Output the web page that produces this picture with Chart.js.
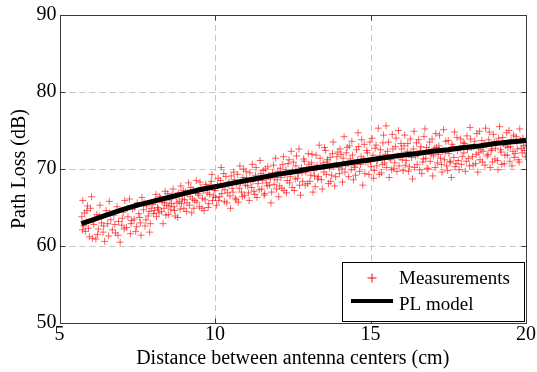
<!DOCTYPE html>
<html>
<head>
<meta charset="utf-8">
<script src="https://cdn.jsdelivr.net/npm/chart.js@4"></script>
<style>
html,body{margin:0;padding:0;background:#fff;}
#wrap{width:537px;height:372px;position:relative;}
</style>
</head>
<body>
<div id="wrap"><canvas id="c" width="537" height="372"></canvas></div>
<script>
// ---- data ----
const xTicks = [5, 10, 15, 20];
const yTicks = [50, 60, 70, 80, 90];
const xTitle = 'Distance between antenna centers (cm)';
const yTitle = 'Path Loss (dB)';
const seriesNames = ['Measurements', 'PL model'];

// PL model curve
const modelX = [5.7, 6, 6.5, 7, 7.5, 8, 8.5, 9, 9.5, 10, 10.5, 11, 11.5, 12, 12.5, 13, 13.5, 14, 14.5, 15, 15.5, 16, 16.5, 17, 17.5, 18, 18.5, 19, 19.5, 20];
const modelY = [62.9, 63.3, 64.0, 64.7, 65.3, 65.8, 66.3, 66.8, 67.3, 67.7, 68.1, 68.5, 68.9, 69.3, 69.6, 70.0, 70.3, 70.6, 70.9, 71.2, 71.5, 71.8, 72.0, 72.3, 72.5, 72.8, 73.0, 73.3, 73.5, 73.7];

// Measurements (estimated from the scatter cloud)
const measX = [
5.72,5.75,5.78,5.8,5.83,5.86,5.9,5.93,5.96,6.0,6.03,6.06,6.1,6.13,6.17,6.2,6.25,6.3,6.35,6.4,6.45,6.5,6.55,6.6,6.65,6.7,6.75,6.8,6.85,6.9,6.95,7.0,7.05,7.1,7.15,7.2,7.25,7.3,7.35,7.4,7.45,7.5,7.55,7.6,7.65,7.7,7.75,7.8,7.85,7.9,7.95,
8.0,8.05,8.1,8.12,8.15,8.2,8.25,8.3,8.33,8.36,8.4,8.45,8.5,8.55,8.6,8.65,8.7,8.75,8.8,8.85,8.9,8.95,9.0,9.05,9.1,9.15,9.2,9.25,9.3,9.35,9.4,9.45,9.5,9.55,9.6,9.65,9.7,9.75,9.8,9.85,9.9,9.95,
10.0,10.05,10.1,10.15,10.2,10.25,10.3,10.35,10.4,10.45,10.5,10.55,10.6,10.65,10.7,10.75,10.8,10.85,10.9,10.95,11.0,11.05,11.1,11.15,11.2,11.25,11.3,11.35,11.4,11.45,11.5,11.55,11.6,11.65,11.7,11.75,11.8,11.85,11.9,11.95,
12.0,12.05,12.1,12.15,12.2,12.25,12.3,12.35,12.4,12.45,12.5,12.55,12.6,12.65,12.7,12.75,12.8,12.85,12.9,12.95,13.0,13.05,13.1,13.15,13.2,13.25,13.3,13.35,13.4,13.45,13.5,13.55,13.6,13.65,13.7,13.75,13.8,13.85,13.9,13.95,
14.0,14.05,14.1,14.15,14.2,14.25,14.3,14.35,14.4,14.45,14.5,14.55,14.6,14.65,14.7,14.75,14.8,14.85,14.9,14.95,15.0,15.05,15.1,15.15,15.2,15.25,15.3,15.35,15.4,15.45,15.5,15.55,15.6,15.65,15.7,15.75,15.8,15.85,15.9,15.95,
16.0,16.05,16.1,16.15,16.2,16.25,16.3,16.35,16.4,16.45,16.5,16.55,16.6,16.65,16.7,16.75,16.8,16.85,16.9,16.95,17.0,17.05,17.1,17.15,17.2,17.25,17.3,17.35,17.4,17.45,17.5,17.55,17.6,17.65,17.7,17.75,17.8,17.85,17.9,17.95,
18.0,18.05,18.1,18.15,18.2,18.25,18.3,18.35,18.4,18.45,18.5,18.55,18.6,18.65,18.7,18.75,18.8,18.85,18.9,18.95,19.0,19.05,19.1,19.15,19.2,19.25,19.3,19.35,19.4,19.45,19.5,19.55,19.6,19.65,19.7,19.75,19.8,19.85,19.9,19.95,20.0,
5.74,5.88,6.08,6.22,6.28,6.42,6.58,6.62,6.78,6.88,7.02,7.08,7.18,7.28,7.32,7.42,7.48,7.58,7.62,7.72,7.78,7.88,7.92,
8.02,8.08,8.18,8.22,8.28,8.38,8.42,8.48,8.52,8.58,8.62,8.68,8.72,8.78,8.82,8.88,8.92,8.98,9.02,9.08,9.12,9.18,9.22,9.28,9.32,9.38,9.42,9.48,9.52,9.58,9.62,9.68,9.72,9.78,9.82,9.88,9.92,9.98,
10.02,10.08,10.12,10.18,10.22,10.28,10.32,10.38,10.42,10.48,10.52,10.58,10.62,10.68,10.72,10.78,10.82,10.88,10.92,10.98,11.02,11.08,11.12,11.18,11.22,11.28,11.32,11.38,11.42,11.48,11.52,11.58,11.62,11.68,11.72,11.78,11.82,11.88,11.92,11.98,
12.02,12.08,12.12,12.18,12.22,12.28,12.32,12.38,12.42,12.48,12.52,12.58,12.62,12.68,12.72,12.78,12.82,12.88,12.92,12.98,13.02,13.08,13.12,13.18,13.22,13.28,13.32,13.38,13.42,13.48,13.52,13.58,13.62,13.68,13.72,13.78,13.82,13.88,13.92,13.98,
14.02,14.08,14.12,14.18,14.22,14.28,14.32,14.38,14.42,14.48,14.52,14.58,14.62,14.68,14.72,14.78,14.82,14.88,14.92,14.98,15.02,15.08,15.12,15.18,15.22,15.28,15.32,15.38,15.42,15.48,15.52,15.58,15.62,15.68,15.72,15.78,15.82,15.88,15.92,15.98,
16.02,16.08,16.12,16.18,16.22,16.28,16.32,16.38,16.42,16.48,16.52,16.58,16.62,16.68,16.72,16.78,16.82,16.88,16.92,16.98,17.02,17.08,17.12,17.18,17.22,17.28,17.32,17.38,17.42,17.48,17.52,17.58,17.62,17.68,17.72,17.78,17.82,17.88,17.92,17.98,
18.02,18.08,18.12,18.18,18.22,18.28,18.32,18.38,18.42,18.48,18.52,18.58,18.62,18.68,18.72,18.78,18.82,18.88,18.92,18.98,19.02,19.08,19.12,19.18,19.22,19.28,19.32,19.38,19.42,19.48,19.52,19.58,19.62,19.68,19.72,19.78,19.82,19.88,19.92,19.98
];
const measY = [
63.8,65.9,62.6,64.3,61.9,63.1,65.2,62.3,61.2,64.9,66.4,61.0,62.8,63.6,60.9,64.1,62.2,65.3,63.0,61.8,60.6,64.6,62.9,65.8,63.4,62.1,64.0,61.7,65.1,63.2,60.5,62.7,64.4,65.9,62.4,63.8,66.1,62.9,64.8,63.5,61.9,65.6,64.2,63.0,66.3,64.7,62.6,65.2,63.9,61.8,64.9,
65.4,64.6,66.7,63.8,65.0,64.3,66.2,65.7,62.9,64.9,67.1,65.3,64.1,66.0,65.5,67.4,64.6,66.4,63.7,65.8,67.8,66.1,64.9,67.0,65.6,68.2,66.4,64.3,67.3,65.9,68.5,66.8,65.1,67.6,66.2,64.6,68.0,66.9,65.5,67.9,69.3,66.5,
67.2,65.3,68.8,66.4,70.2,67.7,65.8,69.0,66.9,68.3,64.9,67.5,69.6,66.2,68.1,65.7,70.4,67.0,68.9,66.6,69.7,67.8,65.9,68.4,70.6,67.1,69.2,66.3,68.7,71.1,67.4,69.8,66.8,68.2,70.3,67.9,65.6,69.5,68.0,71.4,
68.6,66.4,70.1,67.5,71.6,69.3,66.9,70.7,68.2,72.3,69.8,67.2,70.4,68.8,72.6,66.6,69.5,71.3,67.9,70.0,72.0,68.4,70.8,67.0,69.1,71.8,68.7,73.1,70.3,67.4,69.6,72.4,70.9,68.1,71.5,69.2,73.5,67.8,70.6,72.2,
69.4,71.9,68.3,74.2,70.5,72.8,69.0,71.3,73.6,68.6,70.2,72.5,74.7,69.7,71.6,67.9,73.2,70.9,72.1,69.3,71.0,74.0,68.8,72.7,70.4,75.3,71.7,69.5,73.4,70.8,75.6,72.3,68.9,71.2,74.5,70.1,72.9,69.7,75.0,71.5,
72.6,69.8,74.4,71.1,73.3,70.3,72.0,68.7,74.9,71.7,70.6,73.8,72.4,69.4,71.3,75.2,72.8,70.0,73.5,71.9,69.1,72.7,74.6,70.8,73.0,71.4,69.6,75.1,72.2,70.4,73.7,71.0,68.9,72.9,74.8,70.7,72.4,69.9,73.9,71.6,
72.1,69.7,74.3,71.4,75.4,72.8,70.5,73.6,71.9,69.6,74.9,72.5,70.9,73.2,75.3,71.7,73.8,70.2,72.6,74.5,71.3,73.4,69.9,75.5,72.2,74.1,70.7,73.0,71.8,75.0,72.9,70.4,74.4,72.0,73.6,71.2,75.2,72.7,74.0,72.4,73.1,
62.1,64.6,63.3,61.5,63.9,62.6,61.3,64.3,62.8,61.4,63.6,62.2,64.9,61.6,63.3,65.0,62.5,63.7,61.4,65.6,63.4,64.5,62.9,
64.2,65.9,64.8,66.4,64.5,65.6,64.0,66.8,65.2,64.7,66.6,65.1,63.9,65.6,66.9,64.8,65.5,67.2,66.0,64.5,66.9,65.3,67.6,66.1,64.9,67.0,65.7,66.6,68.3,64.9,67.2,66.0,67.7,65.0,66.7,68.4,65.9,67.5,
66.3,67.9,65.9,68.5,66.8,69.4,67.3,65.6,68.0,66.5,69.1,67.0,68.6,66.0,69.3,67.5,68.2,66.4,70.0,67.9,68.8,66.9,69.5,67.6,68.4,66.7,70.2,68.1,67.3,69.4,68.5,66.6,70.0,67.8,69.1,68.7,67.0,70.5,68.9,67.4,
69.7,67.8,68.9,70.6,67.2,69.9,68.5,71.2,69.0,67.6,70.9,68.7,71.7,69.4,67.9,70.2,68.4,71.0,69.6,68.1,70.6,69.2,71.9,69.8,67.7,70.5,69.0,71.4,68.6,70.8,72.8,69.3,71.2,70.1,68.4,72.0,70.4,69.0,71.6,70.2,
72.6,70.0,71.4,69.6,72.1,70.7,73.0,69.9,71.8,70.4,69.2,71.1,72.9,70.6,73.8,71.3,69.4,72.4,70.9,73.5,70.3,71.8,69.8,73.1,71.1,69.3,72.5,70.6,74.4,71.9,70.2,73.5,71.4,69.9,72.6,70.8,74.0,71.7,70.4,73.3,
71.2,73.0,70.5,72.3,69.7,73.9,71.5,72.6,70.2,73.4,71.8,69.9,72.9,70.9,74.2,71.4,70.1,72.5,71.0,73.9,71.7,70.2,72.8,71.9,74.4,70.6,72.3,71.2,73.6,69.8,72.0,70.9,73.2,71.5,70.3,74.1,71.1,72.7,70.6,73.4,
73.3,71.0,72.5,70.4,73.9,71.6,72.9,70.7,74.6,72.1,71.2,73.7,72.3,70.5,73.1,71.9,74.8,72.4,70.9,73.5,72.7,71.1,74.0,72.5,70.6,73.3,71.8,74.7,72.8,71.0,73.8,72.3,71.5,74.2,72.6,70.9,73.7,72.1,73.0,71.6
];

const FONT = '"Liberation Serif", "Times New Roman", serif';

const measPts = measX.map((x, i) => ({x: x, y: measY[i]}));
const modelPts = modelX.map((x, i) => ({x: x, y: modelY[i]}));

const framePlugin = {
  id: 'frame',
  beforeDatasetsDraw(chart) {
    const {ctx, chartArea: a, scales: {x, y}} = chart;
    ctx.save();
    ctx.strokeStyle = '#c4c4c4';
    ctx.lineWidth = 1;
    ctx.setLineDash([6, 4]);
    xTicks.forEach(v => {
      if (v === xTicks[0] || v === xTicks[xTicks.length - 1]) return;
      const px = Math.round(x.getPixelForValue(v)) + 0.5;
      ctx.beginPath(); ctx.moveTo(px, a.top); ctx.lineTo(px, a.bottom); ctx.stroke();
    });
    yTicks.forEach(v => {
      if (v === yTicks[0] || v === yTicks[yTicks.length - 1]) return;
      const py = Math.round(y.getPixelForValue(v)) + 0.5;
      ctx.beginPath(); ctx.moveTo(a.left, py); ctx.lineTo(a.right, py); ctx.stroke();
    });
    ctx.restore();
  },
  afterDatasetsDraw(chart) {
    const {ctx, chartArea: a, scales: {x, y}} = chart;
    ctx.save();
    ctx.strokeStyle = '#3a3a3a';
    ctx.lineWidth = 1;
    ctx.setLineDash([]);
    const L = Math.round(a.left) + 0.5, R = Math.round(a.right) + 0.5;
    const T = Math.round(a.top) + 0.5, B = Math.round(a.bottom) + 0.5;
    ctx.strokeRect(L, T, R - L, B - T);
    const tl = 5;
    ctx.beginPath();
    xTicks.forEach(v => {
      const px = Math.round(x.getPixelForValue(v)) + 0.5;
      ctx.moveTo(px, B); ctx.lineTo(px, B - tl);
      ctx.moveTo(px, T); ctx.lineTo(px, T + tl);
    });
    yTicks.forEach(v => {
      const py = Math.round(y.getPixelForValue(v)) + 0.5;
      ctx.moveTo(L, py); ctx.lineTo(L + tl, py);
      ctx.moveTo(R, py); ctx.lineTo(R - tl, py);
    });
    ctx.stroke();

    // legend box
    const bx = 342.5, by = 262.5, bw = 182, bh = 59;
    ctx.fillStyle = '#fff';
    ctx.fillRect(bx, by, bw, bh);
    ctx.strokeStyle = '#000';
    ctx.strokeRect(bx, by, bw, bh);
    // '+' marker
    ctx.strokeStyle = '#ff0000';
    ctx.lineWidth = 1;
    ctx.beginPath();
    ctx.moveTo(367.5, 278); ctx.lineTo(376.5, 278);
    ctx.moveTo(372, 273.5); ctx.lineTo(372, 282.5);
    ctx.stroke();
    // line sample
    ctx.strokeStyle = '#000';
    ctx.lineWidth = 4;
    ctx.beginPath();
    ctx.moveTo(351, 301); ctx.lineTo(393, 301);
    ctx.stroke();
    ctx.fillStyle = '#000';
    ctx.font = '19px ' + FONT;
    ctx.textBaseline = 'alphabetic';
    ctx.textAlign = 'left';
    ctx.fillText(seriesNames[0], 399, 284);
    ctx.fillText(seriesNames[1], 399, 310);
    ctx.restore();
  }
};

new Chart(document.getElementById('c'), {
  type: 'scatter',
  data: {
    datasets: [
      {
        label: seriesNames[1],
        data: modelPts,
        showLine: true,
        borderColor: '#000',
        borderWidth: 5,
        pointRadius: 0,
        tension: 0,
        order: 0
      },
      {
        label: seriesNames[0],
        data: measPts,
        pointStyle: 'cross',
        pointRadius: 3.5,
        borderColor: 'rgba(255,0,0,0.62)',
        backgroundColor: 'rgba(255,0,0,0.62)',
        pointBorderWidth: 1,
        order: 1
      }
    ]
  },
  plugins: [framePlugin],
  options: {
    responsive: false,
    animation: false,
    events: [],
    layout: {padding: {top: 15, right: 11, left: 0, bottom: 0}},
    plugins: {legend: {display: false}, tooltip: {enabled: false}},
    scales: {
      x: {
        type: 'linear',
        min: 5, max: 20,
        afterBuildTicks: s => { s.ticks = xTicks.map(v => ({value: v})); },
        afterFit: s => { s.height = 49; },
        grid: {display: false, drawTicks: false},
        border: {display: false},
        ticks: {color: '#000', font: {family: FONT, size: 20}, padding: 0, maxRotation: 0},
        title: {display: true, text: xTitle, color: '#000', font: {family: FONT, size: 20}, padding: {top: 0, bottom: 1}}
      },
      y: {
        type: 'linear',
        min: 50, max: 90,
        afterBuildTicks: s => { s.ticks = yTicks.map(v => ({value: v})); },
        afterFit: s => { s.width = 59.5; },
        grid: {display: false, drawTicks: false},
        border: {display: false},
        ticks: {color: '#000', font: {family: FONT, size: 20}, padding: 3},
        title: {display: true, text: yTitle, color: '#000', font: {family: FONT, size: 20}, padding: {top: 8, bottom: 0}}
      }
    }
  }
});
</script>
</body>
</html>
